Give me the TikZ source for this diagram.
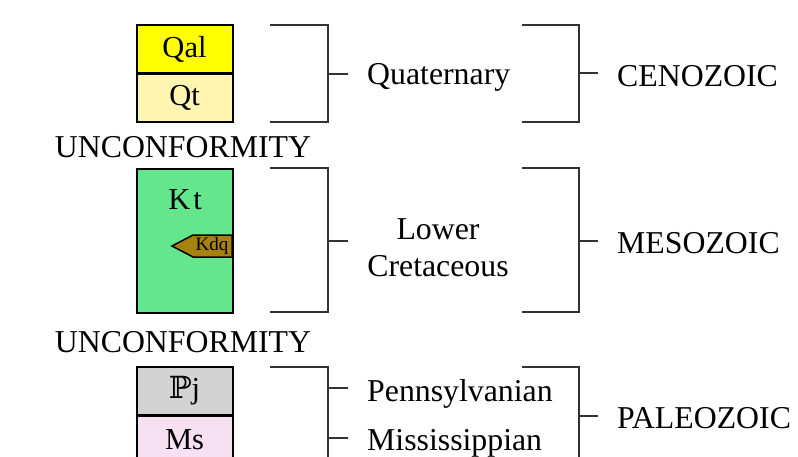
\documentclass[tikz,border=0pt]{standalone}
\usepackage{fontspec}
\setmainfont{Liberation Serif}
\newfontfamily\dvs{DejaVu Serif}
\definecolor{qal}{HTML}{FFFF00}
\definecolor{qt}{HTML}{FFF5B0}
\definecolor{kt}{HTML}{63E68C}
\definecolor{kdq}{HTML}{A8820E}
\definecolor{pj}{HTML}{D3D3D3}
\definecolor{ms}{HTML}{F6E0F2}
\definecolor{brk}{HTML}{333333}
\tikzset{
  unit/.style={draw=black, line width=2pt, minimum width=96pt, inner sep=0pt, font=\fontsize{30.5}{32}\selectfont},
  brack/.style={draw=brk, line width=1.3pt},
  lbl/.style={anchor=west, inner sep=0pt, font=\fontsize{31.8}{38}\selectfont},
}
\begin{document}
\begin{tikzpicture}[x=1pt,y=-1pt]
\useasboundingbox (0,0) rectangle (798,456);
\clip (0,0) rectangle (798,456);
% column boxes
\node[unit, fill=qal, minimum height=48pt] (qal) at (184.5,49) {Qal};
\node[unit, fill=qt, minimum height=48pt] (qtb) at (184.5,97.5) {Qt};
\node[unit, fill=kt, minimum height=144pt] (ktb) at (184.5,241) {};
\node[font=\fontsize{30.5}{32}\selectfont, inner sep=0pt] (ktl) at (185,200) {K\kern3pt t};
\filldraw[fill=kdq, draw=black, line width=1.5pt] (232,235) -- (193,235) -- (172,246) -- (193,257) -- (232,257) -- cycle;
\node[font=\fontsize{19}{20}\selectfont, inner sep=0pt] (kdql) at (212,245.5) {Kdq};
\node[unit, fill=pj, minimum height=48pt] (pjb) at (184.5,391) {{\dvs ℙ}j};
\node[unit, fill=ms, minimum height=48pt] (msb) at (184.5,439.5) {Ms};
% unconformities
\node[font=\fontsize{31.8}{38}\selectfont, inner sep=0pt] (u1) at (183,147) {UNCONFORMITY};
\node[font=\fontsize{31.8}{38}\selectfont, inner sep=0pt] (u2) at (183,342) {UNCONFORMITY};
% period brackets
\draw[brack] (270,25) -- (328,25) -- (328,122) -- (270,122);
\draw[brack] (328,74) -- (348,74);
\draw[brack] (270,168) -- (328,168) -- (328,312) -- (270,312);
\draw[brack] (328,241) -- (348,241);
\draw[brack] (270,367) -- (328,367) -- (328,470);
\draw[brack] (328,388) -- (348,388);
\draw[brack] (328,438) -- (348,438);
% era brackets
\draw[brack] (522,25) -- (579,25) -- (579,122) -- (522,122);
\draw[brack] (579,73) -- (598,73);
\draw[brack] (522,168) -- (579,168) -- (579,312) -- (522,312);
\draw[brack] (579,241) -- (598,241);
\draw[brack] (522,367) -- (579,367) -- (579,470);
\draw[brack] (579,416) -- (598,416);
% labels
\node[lbl] (quat) at (367,77) {Quaternary};
\node[font=\fontsize{31.8}{37}\selectfont, align=center, inner sep=0pt] (lcret) at (438,248) {Lower\\Cretaceous};
\node[lbl] (penn) at (367,394) {Pennsylvanian};
\node[lbl] (miss) at (367,443) {Mississippian};
\node[lbl] (ceno) at (617,76) {CENOZOIC};
\node[lbl] (meso) at (617,243) {MESOZOIC};
\node[lbl] (paleo) at (617,418) {PALEOZOIC};
\end{tikzpicture}
\end{document}
